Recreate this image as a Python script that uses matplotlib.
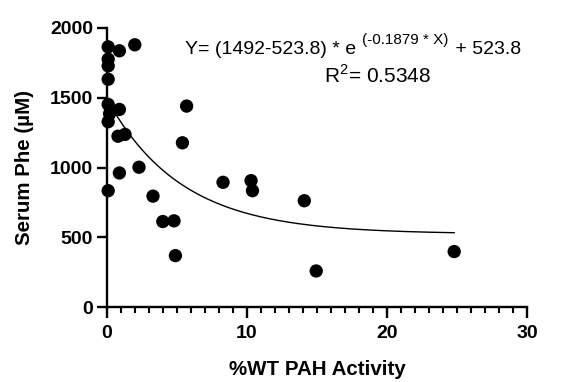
import numpy as np
import matplotlib
matplotlib.use("Agg")
import matplotlib.pyplot as plt
from matplotlib.ticker import MultipleLocator

plt.rcParams["font.family"] = ["Liberation Sans", "DejaVu Sans"]
plt.rcParams["mathtext.fontset"] = "custom"
plt.rcParams["mathtext.rm"] = "Liberation Sans"

# %WT PAH activity vs serum Phe for each variant
activity = [0.1, 0.1, 0.1, 0.1, 0.1, 0.2, 0.1, 0.1,
            0.9, 0.9, 0.9, 2.0, 0.8, 1.3, 2.3,
            3.3, 4.0, 4.8, 4.9, 5.4, 5.7,
            8.3, 10.3, 10.4, 14.1, 14.95, 24.8]
serum_phe = [1864, 1776, 1728, 1632, 1452, 1385, 1328, 834,
             1836, 1416, 961, 1879, 1224, 1237, 1002,
             795, 613, 618, 369, 1177, 1440,
             894, 906, 834, 762, 259, 398]

# one-phase decay fit
y0 = 1492
plateau = 523.8
k = 0.1879
r2 = 0.5348

fig = plt.figure(figsize=(5.71, 3.82), dpi=100)
ax = fig.add_axes([0.187, 0.196, 0.736, 0.731])

xs = np.linspace(0, max(activity), 200)
fit = (y0 - plateau) * np.exp(-k * xs) + plateau
ax.plot(xs, fit, color="black", lw=1.0, zorder=2)

ax.scatter(activity, serum_phe, s=92, color="black", edgecolors="none",
           zorder=3, clip_on=False)

ax.set_xlim(0, 30)
ax.set_ylim(0, 2000)
ax.xaxis.set_major_locator(MultipleLocator(10))
ax.xaxis.set_minor_locator(MultipleLocator(1))
ax.yaxis.set_major_locator(MultipleLocator(500))

for side in ["top", "right"]:
    ax.spines[side].set_visible(False)
for side in ["left", "bottom"]:
    ax.spines[side].set_linewidth(1.7)

ax.tick_params(axis="both", which="major", length=7, width=1.7,
               labelsize=14, pad=3)
ax.tick_params(axis="x", which="major", length=8, pad=5)
ax.tick_params(axis="x", which="minor", length=4.5, width=1.5)
for lab in ax.get_xticklabels() + ax.get_yticklabels():
    lab.set_fontweight("bold")

ax.set_xlabel("%WT PAH Activity", fontsize=14.8, fontweight="bold", labelpad=13)
ax.set_ylabel("Serum Phe (µM)", fontsize=14.8, fontweight="bold", labelpad=11)

# fit equation, written in three pieces so the exponent can sit raised
renderer = fig.canvas.get_renderer()
W, H = fig.bbox.width, fig.bbox.height
base_y = 1 - 54 / H
t1 = fig.text(185 / W, base_y, f"Y= ({y0}-{plateau}) * e ",
              ha="left", va="baseline", fontsize=14)
x_next = t1.get_window_extent(renderer).x1 + 1
t2 = fig.text(x_next / W, base_y + 10 / H, f"(-{k} * X)",
              ha="left", va="baseline", fontsize=11)
x_next = t2.get_window_extent(renderer).x1 + 1
fig.text(x_next / W, base_y, f" + {plateau}",
         ha="left", va="baseline", fontsize=14)

fig.text(377 / W, 1 - 75 / H, f"R$^2$= {r2}", ha="center", va="center",
         fontsize=15)

fig.savefig("out.png", dpi=100)
